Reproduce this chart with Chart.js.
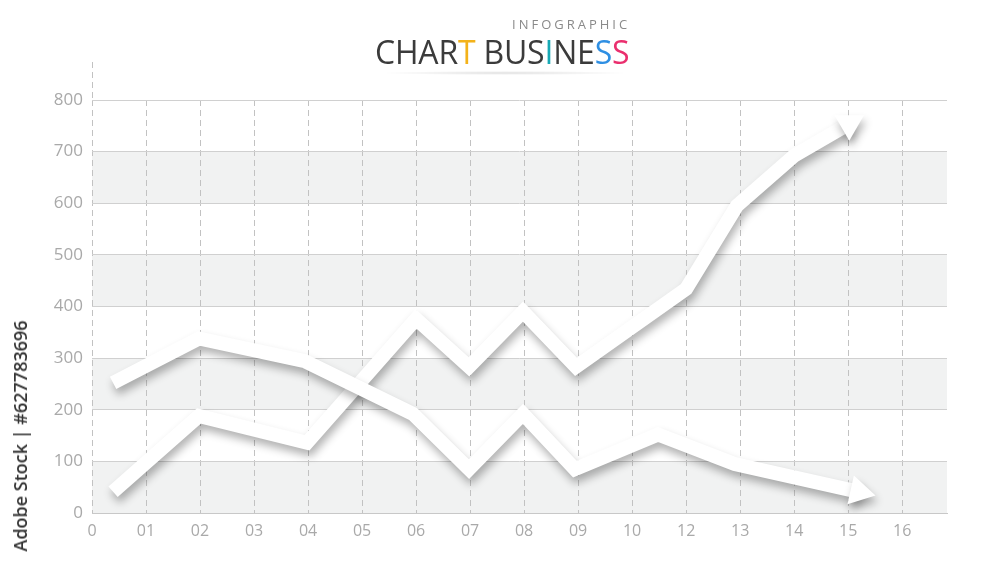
<!DOCTYPE html>
<html>
<head>
<meta charset="utf-8">
<script src="https://cdn.jsdelivr.net/npm/chart.js@4"></script>
<style>
  html, body { margin: 0; padding: 0; background: #ffffff; }
  #wrap { position: relative; width: 1000px; height: 566px; overflow: hidden; }
  #c { position: absolute; left: 0; top: 0; }
  .sub { position: absolute; left: 512px; top: 15px; font-family: "Open Sans", sans-serif; font-size: 13px; letter-spacing: 3px; color: #8a8a8a; }
  .ttl { position: absolute; left: 375px; top: 30px; font-family: "Open Sans", sans-serif; font-size: 32px; color: #3b3b3b; letter-spacing: -0.2px; white-space: nowrap; }
  .ul { position: absolute; left: 380px; top: 71px; width: 250px; height: 4px; background: radial-gradient(ellipse at center, rgba(0,0,0,0.12) 0%, rgba(0,0,0,0) 70%); }
  .wm { position: absolute; left: 20px; top: 436px; transform: translate(-50%, -50%) rotate(-90deg); font-family: "Open Sans", sans-serif; font-weight: 600; font-size: 18px; color: #333; white-space: nowrap; }
</style>
</head>
<body>
<div id="wrap">
  <canvas id="c" width="1000" height="566"></canvas>
  <div class="sub">INFOGRAPHIC</div>
  <div class="ttl">CHAR<span style="color:#f3b21a">T</span> BUS<span style="color:#17a9b5">I</span>NE<span style="color:#2f8fe3">S</span><span style="color:#ea2f6e">S</span></div>
  <div class="ul"></div>
  <div class="wm">Adobe Stock | #627783696</div>
</div>
<script>
const xTickLabels = ['0','01','02','03','04','05','06','07','08','09','10','12','13','14','15','16'];
const yTicks = [0,100,200,300,400,500,600,700,800];

const lineAX = [0.39, 1.98, 3.94, 5.94, 6.98, 7.98, 8.94, 10.48, 11.9, 14.2];
const lineAY = [252, 338, 294, 192, 85, 192, 85, 152, 95, 41];

const lineBX = [0.39, 1.98, 3.98, 6.0, 6.98, 7.98, 8.96, 11.0, 11.94, 13.0, 14.02];
const lineBY = [41, 188, 136, 376, 283, 390, 283, 434, 595, 692, 754];

function pts(xs, ys) { return xs.map((x, i) => ({ x: x, y: ys[i] })); }

function arrowRotation(ctx) {
  const ds = ctx.dataset.data;
  const i = ctx.dataIndex;
  if (i < 1) return 0;
  const sx = ctx.chart.scales.x, sy = ctx.chart.scales.y;
  const x0 = sx.getPixelForValue(ds[i-1].x), y0 = sy.getPixelForValue(ds[i-1].y);
  const x1 = sx.getPixelForValue(ds[i].x), y1 = sy.getPixelForValue(ds[i].y);
  return Math.atan2(y1 - y0, x1 - x0) * 180 / Math.PI + 90;
}

const bandPlugin = {
  id: 'bands',
  beforeDraw(chart) {
    const { ctx, chartArea, scales } = chart;
    ctx.save();
    ctx.fillStyle = '#f1f2f2';
    for (let v = 0; v < 800; v += 200) {
      const yTop = scales.y.getPixelForValue(v + 100);
      const yBot = scales.y.getPixelForValue(v);
      ctx.fillRect(chartArea.left, yTop, chartArea.right - chartArea.left, yBot - yTop);
    }
    // extension of the leftmost dashed guide above the plot
    ctx.strokeStyle = '#c2c2c2';
    ctx.lineWidth = 1;
    ctx.setLineDash([6, 4]);
    ctx.beginPath();
    ctx.moveTo(chartArea.left + 0.5, chartArea.top - 38);
    ctx.lineTo(chartArea.left + 0.5, chartArea.top);
    ctx.stroke();
    ctx.restore();
  }
};

const shadowPlugin = {
  id: 'shadow',
  beforeDatasetDraw(chart) {
    const ctx = chart.ctx;
    ctx.save();
    ctx.shadowColor = 'rgba(0,0,0,0.30)';
    ctx.shadowBlur = 9;
    ctx.shadowOffsetX = 2;
    ctx.shadowOffsetY = 6;
  },
  afterDatasetDraw(chart) {
    chart.ctx.restore();
  }
};

function lineDataset(xs, ys) {
  const n = xs.length;
  return {
    data: pts(xs, ys),
    borderColor: '#ffffff',
    backgroundColor: '#ffffff',
    borderWidth: 14,
    borderCapStyle: 'butt',
    borderJoinStyle: 'miter',
    tension: 0,
    pointStyle: 'triangle',
    pointRadius: (c) => c.dataIndex === n - 1 ? 17 : 0,
    pointHoverRadius: (c) => c.dataIndex === n - 1 ? 17 : 0,
    pointBorderWidth: 0,
    pointBackgroundColor: '#ffffff',
    pointRotation: arrowRotation
  };
}

new Chart(document.getElementById('c'), {
  type: 'line',
  data: { datasets: [lineDataset(lineAX, lineAY), lineDataset(lineBX, lineBY)] },
  options: {
    responsive: false,
    animation: false,
    events: [],
    layout: { padding: { left: 0, right: 53, top: 100, bottom: 0 } },
    plugins: { legend: { display: false }, tooltip: { enabled: false } },
    scales: {
      x: {
        type: 'linear',
        min: 0,
        max: 15.83,
        afterBuildTicks: (s) => { s.ticks = xTickLabels.map((_, i) => ({ value: i })); },
        afterFit: (s) => { s.height = 53; },
        ticks: {
          autoSkip: false,
          maxRotation: 0,
          padding: 9,
          color: '#a9a9a9',
          font: { family: 'Open Sans', size: 16 },
          callback: (v, i) => xTickLabels[i]
        },
        grid: { color: '#c2c2c2', lineWidth: 1, drawTicks: false },
        border: { display: true, color: '#c8c8c8', width: 1, dash: [6, 4] }
      },
      y: {
        min: 0,
        max: 800,
        afterBuildTicks: (s) => { s.ticks = yTicks.map(v => ({ value: v })); },
        afterFit: (s) => { s.width = 92; },
        ticks: {
          padding: 9,
          color: '#a9a9a9',
          font: { family: 'Open Sans', size: 17 }
        },
        grid: { color: '#d0d0d0', lineWidth: 1, drawTicks: false },
        border: { display: false }
      }
    }
  },
  plugins: [bandPlugin, shadowPlugin]
});
</script>
</body>
</html>
